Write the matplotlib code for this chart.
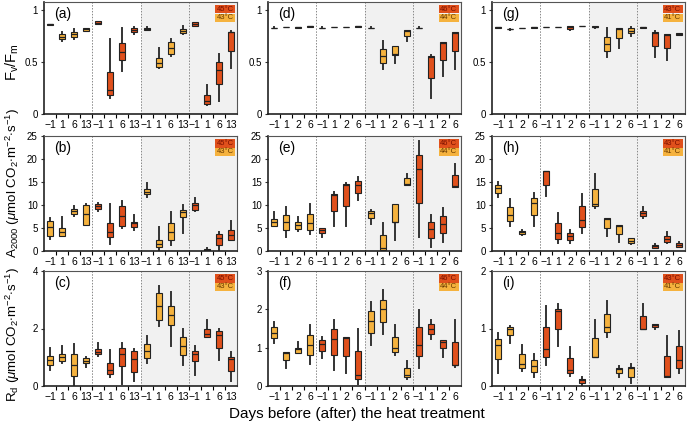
import matplotlib
matplotlib.use("Agg")
import matplotlib.pyplot as plt
from matplotlib.patches import Rectangle

plt.rcParams["font.family"] = ["Liberation Sans", "DejaVu Sans"]
plt.rcParams["mathtext.fontset"] = "custom"
plt.rcParams["mathtext.rm"] = "Liberation Sans"
plt.rcParams["mathtext.it"] = "Liberation Sans:italic"
plt.rcParams["mathtext.bf"] = "Liberation Sans:bold"

W, H = 687, 422

# ---- data: per panel, lists of (whislo, q1, med, q3, whishi) for 16 boxes ----
ticks_col1 = ["\u22121", "1", "6", "13"]
ticks_col23 = ["\u22121", "1", "2", "6"]

temps = [("45°C", "43°C"), ("46°C", "44°C"), ("43°C", "41°C")]
panel_labels = [["(a)", "(d)", "(g)"], ["(b)", "(e)", "(h)"], ["(c)", "(f)", "(i)"]]

# (a) Fv/Fm
a_lo  = [0.86, 0.70, 0.728, 0.80, 0.865, 0.153, 0.41, 0.776, 0.81, 0.44, 0.562, 0.77, 0.845, 0.089, 0.121, 0.44]
a_q1  = [0.862, 0.719, 0.744, 0.805, 0.869, 0.179, 0.52, 0.792, 0.81, 0.457, 0.575, 0.78, 0.847, 0.099, 0.29, 0.61]
a_med = [0.866, 0.741, 0.773, 0.818, 0.882, 0.233, 0.60, 0.81, 0.82, 0.495, 0.64, 0.80, 0.869, 0.121, 0.42, 0.786]
a_q3  = [0.87, 0.767, 0.789, 0.827, 0.895, 0.406, 0.68, 0.827, 0.834, 0.537, 0.69, 0.82, 0.885, 0.179, 0.50, 0.79]
a_hi  = [0.872, 0.79, 0.815, 0.83, 0.90, 0.728, 0.83, 0.84, 0.84, 0.64, 0.728, 0.85, 0.89, 0.281, 0.578, 0.80]

# (d) Fv/Fm
d_lo  = [0.829, 0.837, 0.832, 0.842, 0.829, 0.837, 0.837, 0.842, 0.829, 0.43, 0.494, 0.703, 0.829, 0.158, 0.365, 0.43]
d_q1  = [0.83, 0.838, 0.833, 0.843, 0.83, 0.838, 0.838, 0.843, 0.83, 0.494, 0.571, 0.752, 0.83, 0.348, 0.519, 0.603]
d_med = [0.832, 0.84, 0.835, 0.845, 0.832, 0.84, 0.84, 0.845, 0.832, 0.558, 0.575, 0.80, 0.832, 0.548, 0.687, 0.78]
d_q3  = [0.834, 0.842, 0.837, 0.847, 0.834, 0.842, 0.842, 0.847, 0.834, 0.623, 0.655, 0.806, 0.834, 0.558, 0.694, 0.79]
d_hi  = [0.835, 0.843, 0.838, 0.848, 0.835, 0.843, 0.843, 0.848, 0.835, 0.70, 0.655, 0.81, 0.835, 0.565, 0.694, 0.795]

# (g) Fv/Fm
g_lo  = [0.833, 0.814, 0.83, 0.833, 0.839, 0.839, 0.81, 0.846, 0.832, 0.549, 0.641, 0.756, 0.833, 0.549, 0.524, 0.762]
g_q1  = [0.834, 0.815, 0.831, 0.834, 0.84, 0.84, 0.819, 0.847, 0.835, 0.61, 0.73, 0.784, 0.834, 0.657, 0.641, 0.765]
g_med = [0.835, 0.816, 0.832, 0.835, 0.841, 0.841, 0.835, 0.848, 0.84, 0.673, 0.823, 0.80, 0.835, 0.778, 0.762, 0.772]
g_q3  = [0.836, 0.817, 0.833, 0.836, 0.842, 0.842, 0.844, 0.849, 0.845, 0.746, 0.825, 0.825, 0.836, 0.787, 0.768, 0.78]
g_hi  = [0.837, 0.818, 0.834, 0.837, 0.843, 0.843, 0.848, 0.85, 0.848, 0.825, 0.832, 0.835, 0.837, 0.803, 0.772, 0.785]

# (b) A2000
b_lo  = [2.6, 3.35, 7.6, 5.7, 8.7, 1.45, 4.9, 4.6, 11.7, 0.2, 1.3, 4.0, 8.7, 0.0, 0.0, 2.5]
b_q1  = [3.3, 3.35, 8.0, 5.7, 9.1, 3.1, 5.5, 5.3, 12.4, 0.9, 2.4, 7.3, 8.9, 0.1, 1.2, 2.5]
b_med = [5.2, 4.2, 8.6, 8.1, 9.8, 4.1, 7.6, 6.0, 12.9, 1.45, 4.2, 8.4, 10.0, 0.2, 2.8, 3.5]
b_q3  = [6.6, 4.95, 9.2, 10.0, 10.2, 6.0, 9.7, 6.4, 13.5, 2.5, 6.0, 8.9, 10.5, 0.45, 3.6, 4.6]
b_hi  = [7.1, 7.5, 9.8, 10.2, 10.5, 10.2, 10.8, 7.9, 14.8, 5.3, 8.4, 9.9, 11.6, 0.55, 4.1, 6.5]

# (e) A2000
e_lo  = [5.5, 3.1, 4.4, 3.6, 3.0, 5.5, 5.5, 11.1, 5.8, 0.2, 2.5, 14.4, 3.1, 0.95, 1.9, 14.0]
e_q1  = [5.5, 4.6, 4.8, 4.6, 4.0, 8.6, 9.8, 12.6, 7.1, 0.2, 6.3, 14.4, 10.4, 2.75, 3.85, 14.0]
e_med = [6.4, 6.25, 5.7, 6.0, 4.6, 12.1, 14.3, 14.3, 8.2, 0.7, 6.4, 14.5, 17.8, 4.8, 5.9, 14.2]
e_q3  = [7.0, 7.85, 6.4, 8.1, 5.1, 12.4, 14.5, 15.3, 8.7, 3.5, 10.2, 15.9, 20.8, 6.25, 7.6, 16.6]
e_hi  = [8.4, 9.5, 7.5, 10.2, 5.1, 12.9, 14.8, 16.1, 8.9, 6.0, 10.2, 16.8, 23.9, 7.85, 9.3, 18.9]

# (h) A2000
h_lo  = [11.7, 5.5, 3.5, 5.5, 11.85, 1.7, 1.8, 3.85, 9.45, 3.3, 2.0, 1.45, 7.1, 0.6, 1.7, 0.8]
h_q1  = [12.6, 6.5, 3.6, 7.85, 14.4, 2.6, 2.3, 5.2, 9.8, 5.1, 3.8, 1.7, 7.6, 0.7, 1.9, 0.95]
h_med = [13.7, 7.85, 4.1, 10.4, 17.3, 3.85, 3.3, 6.8, 10.2, 7.0, 5.5, 2.2, 8.2, 1.1, 2.6, 1.3]
h_q3  = [14.25, 9.5, 4.4, 11.5, 17.45, 6.0, 3.85, 9.8, 13.5, 7.1, 5.7, 2.75, 8.8, 1.3, 3.35, 1.7]
h_hi  = [15.1, 11.3, 4.6, 12.6, 17.45, 8.2, 4.6, 12.4, 16.7, 7.1, 5.7, 2.9, 9.5, 1.45, 4.2, 1.9]

# (c) Rd
c_lo  = [0.56, 0.81, 0.0, 0.67, 1.05, 0.33, 0.07, 0.19, 0.79, 2.07, 1.4, 0.73, 0.38, 1.72, 0.91, 0.17]
c_q1  = [0.73, 0.88, 0.36, 0.79, 1.1, 0.41, 0.70, 0.5, 0.97, 2.3, 2.13, 1.08, 0.88, 1.72, 1.31, 0.52]
c_med = [0.91, 1.0, 0.73, 0.88, 1.2, 0.56, 1.1, 0.93, 1.22, 2.79, 2.47, 1.4, 1.1, 1.82, 1.78, 0.93]
c_q3  = [1.05, 1.1, 1.12, 0.97, 1.28, 0.81, 1.31, 1.23, 1.47, 3.23, 2.77, 1.69, 1.22, 2.0, 1.92, 1.02]
c_hi  = [1.31, 1.4, 1.47, 1.0, 1.49, 1.26, 1.49, 1.29, 1.74, 3.49, 3.27, 2.0, 1.4, 2.28, 2.0, 1.2]

# (f) Rd
f_lo  = [1.13, 0.48, 0.87, 0.57, 0.72, 0.43, 0.35, 0.04, 1.07, 1.35, 0.8, 0.19, 0.48, 1.22, 0.76, 0.5]
f_q1  = [1.25, 0.68, 0.87, 0.82, 0.91, 0.82, 0.79, 0.18, 1.39, 1.68, 0.89, 0.24, 0.78, 1.36, 1.0, 0.54]
f_med = [1.38, 0.87, 0.96, 1.07, 1.1, 1.22, 1.26, 0.3, 1.7, 2.0, 0.98, 0.3, 1.08, 1.5, 1.16, 0.56]
f_q3  = [1.53, 0.89, 1.0, 1.32, 1.2, 1.48, 1.27, 0.91, 1.96, 2.25, 1.29, 0.48, 1.53, 1.61, 1.2, 1.16]
f_hi  = [1.67, 0.89, 1.16, 1.58, 1.29, 1.73, 1.29, 1.48, 2.18, 2.5, 1.58, 0.65, 1.99, 1.71, 1.2, 1.73]

# (i) Rd
i_lo  = [0.23, 0.75, 0.26, 0.16, 0.37, 0.7, 0.17, 0.01, 0.5, 0.86, 0.15, 0.06, 0.99, 1.0, 0.16, 0.22]
i_q1  = [0.47, 0.89, 0.32, 0.25, 0.51, 0.99, 0.23, 0.06, 0.5, 0.94, 0.22, 0.16, 0.99, 1.02, 0.16, 0.32]
i_med = [0.71, 1.0, 0.39, 0.35, 0.64, 1.3, 0.27, 0.11, 0.5, 1.02, 0.29, 0.32, 1.0, 1.06, 0.17, 0.45]
i_q3  = [0.81, 1.03, 0.55, 0.45, 1.02, 1.34, 0.48, 0.13, 0.83, 1.26, 0.32, 0.33, 1.21, 1.08, 0.52, 0.7]
i_hi  = [0.92, 1.05, 0.71, 0.55, 1.39, 1.42, 0.67, 0.15, 1.15, 1.47, 0.34, 0.39, 1.43, 1.08, 0.87, 0.95]

panels = [
    [(a_lo, a_q1, a_med, a_q3, a_hi), (d_lo, d_q1, d_med, d_q3, d_hi), (g_lo, g_q1, g_med, g_q3, g_hi)],
    [(b_lo, b_q1, b_med, b_q3, b_hi), (e_lo, e_q1, e_med, e_q3, e_hi), (h_lo, h_q1, h_med, h_q3, h_hi)],
    [(c_lo, c_q1, c_med, c_q3, c_hi), (f_lo, f_q1, f_med, f_q3, f_hi), (i_lo, i_q1, i_med, i_q3, i_hi)],
]

ylims = [[1.08, 1.08, 1.08], [25, 25, 25], [4, 3, 2]]
yticks = [[[0, 0.5, 1]] * 3,
          [[0, 5, 10, 15, 20, 25]] * 3,
          [[0, 2, 4], [0, 1, 2, 3], [0, 1, 2]]]
yticklabels = [[["0", "0.5", "1"]] * 3,
               [["0", "5", "10", "15", "20", "25"]] * 3,
               [["0", "2", "4"], ["0", "1", "2", "3"], ["0", "1", "2"]]]

ylabels = [r"F$_\mathrm{v}$/F$_\mathrm{m}$",
           r"A$_{2000}$ ($\mathit{\mu}$mol CO$_2$$\cdot$m$^{-2}$$\cdot$s$^{-1}$)",
           r"R$_\mathrm{d}$ ($\mathit{\mu}$mol CO$_2$$\cdot$m$^{-2}$$\cdot$s$^{-1}$)"]
ylabel_pos = [(12, 62), (13, 183), (13, 334)]
ylabel_size = [10.5, 9.6, 9.6]

YELLOW = "#f5b23e"
RED = "#e0501c"
group_colors = [YELLOW, RED, YELLOW, RED]

col_left = [44, 268, 492]
col_w = 193
row_tb = [(2, 114), (136, 251), (271, 386)]

fig = plt.figure(figsize=(W / 100, H / 100), dpi=100)

for r in range(3):
    for c in range(3):
        top, bot = row_tb[r]
        ax = fig.add_axes([col_left[c] / W, 1 - bot / H, col_w / W, (bot - top) / H])
        lo, q1, med, q3, hi = panels[r][c]
        stats = [dict(whislo=lo[k], q1=q1[k], med=med[k], q3=q3[k], whishi=hi[k], fliers=[])
                 for k in range(16)]
        ax.axvspan(7.5, 15.5, color="#f1f1f1", zorder=0, lw=0)
        bp = ax.bxp(stats, positions=list(range(16)), widths=0.5, patch_artist=True,
                    showcaps=False,
                    boxprops=dict(linewidth=0.8, edgecolor="#222222"),
                    medianprops=dict(color="#222222", linewidth=0.9),
                    whiskerprops=dict(color="#333333", linewidth=1.4),
                    manage_ticks=False)
        for k, b in enumerate(bp["boxes"]):
            b.set_facecolor(group_colors[k // 4])
            b.set_zorder(3)
        for w in bp["whiskers"]:
            w.set_zorder(2)
        for m in bp["medians"]:
            m.set_zorder(4)
        for xs in (3.5, 7.5, 11.5):
            ax.axvline(xs, color="#888888", lw=0.7, ls=(0, (1.5, 1.5)), zorder=1)
        ax.set_xlim(-0.5, 15.5)
        ax.set_ylim(0, ylims[r][c])
        ax.set_yticks(yticks[r][c])
        ax.set_yticklabels(yticklabels[r][c])
        labs = (ticks_col1 if c == 0 else ticks_col23) * 4
        ax.set_xticks(range(16))
        ax.set_xticklabels(labs)
        ax.set_xticks([k + 0.5 for k in range(15)], minor=True)
        ax.tick_params(axis="both", labelsize=7.5, length=2.5, width=0.8, color="#333333", pad=2)
        ax.tick_params(axis="y", labelsize=7)
        ax.tick_params(axis="x", which="major", length=0, pad=4)
        ax.tick_params(axis="x", which="minor", length=3, width=0.8)
        for sp in ax.spines.values():
            sp.set_color("#555555")
            sp.set_linewidth(0.8)
        ax.spines["left"].set_color("#222222")
        ax.spines["bottom"].set_color("#222222")
        ax.spines["left"].set_linewidth(1.2)
        ax.spines["bottom"].set_linewidth(1.2)
        ax.text(0.05, 0.955, panel_labels[r][c], transform=ax.transAxes, fontsize=10,
                va="top", ha="left")
        # temperature legend
        hot, mild = temps[c]
        for j, (t, fc, tc) in enumerate([(hot, RED, "#7a1000"), (mild, YELLOW, "#6a3a00")]):
            x0, y0 = 0.885, 0.90 - j * 0.075
            ax.add_patch(Rectangle((x0, y0), 0.105, 0.072, transform=ax.transAxes,
                                   facecolor=fc, edgecolor="none", zorder=5))
            ax.text(x0 + 0.0525, y0 + 0.036, t, transform=ax.transAxes, fontsize=5.5,
                    color=tc, ha="center", va="center", zorder=6)
        if c == 0:
            px, py = ylabel_pos[r]
            fig.text(px / W, 1 - py / H, ylabels[r], rotation=90, ha="center", va="center",
                     fontsize=ylabel_size[r])

fig.text(357 / W, 1 - 414 / H, "Days before (after) the heat treatment", ha="center",
         va="center", fontsize=11)

fig.savefig("out.png", dpi=100)
